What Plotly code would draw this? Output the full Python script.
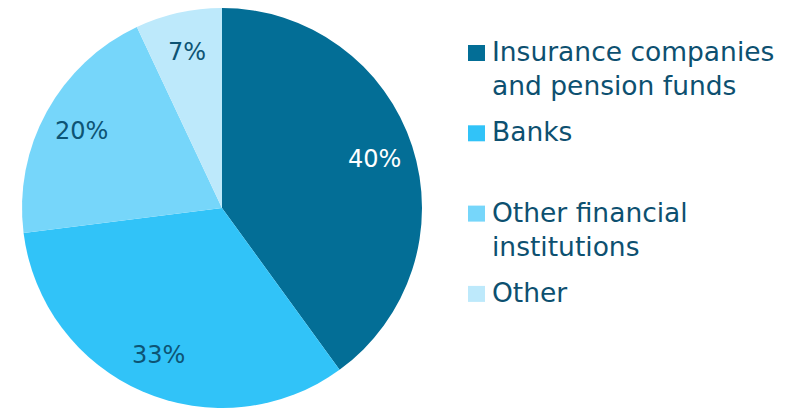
import numpy as np
import plotly.graph_objects as go

# Holders of the debt, share of total (%)
categories = ["Insurance companies<br>and pension funds", "Banks",
              "Other financial<br>institutions", "Other"]
shares = [40, 33, 20, 7]

slice_colors = ["#036e96", "#31c3f8", "#76d6fa", "#bde9fb"]
label_colors = ["#ffffff", "#0d5474", "#0d5474", "#0d5474"]
text_color = "#0d5070"
font_family = "DejaVu Sans, Verdana, sans-serif"

W, H = 792, 408
cx, cy, radius = 222, 208, 200  # pie centre and radius in pixels


def px(x):
    return x / W


def py(y):
    return 1 - y / H


fig = go.Figure(
    go.Pie(
        labels=[c.replace("<br>", " ") for c in categories],
        values=shares,
        sort=False,
        direction="clockwise",
        rotation=0,
        marker=dict(colors=slice_colors, line=dict(width=0)),
        textinfo="none",
        hoverinfo="label+percent",
        showlegend=False,
        domain=dict(x=[px(cx - radius), px(cx + radius)],
                    y=[py(cy + radius), py(cy - radius)]),
    )
)

# percentage labels at the middle angle of each slice, ~80% of the radius out
total = float(np.sum(shares))
ends = np.cumsum(shares) / total * 360.0
mids = np.radians(ends - np.array(shares) / total * 180.0)
annotations = []
for share, ang, col in zip(shares, mids, label_colors):
    lx = cx + 0.8 * radius * np.sin(ang)
    ly = cy - 0.8 * radius * np.cos(ang)
    annotations.append(dict(
        x=px(lx), y=py(ly), xref="paper", yref="paper",
        text=f"{share:.0f}%", showarrow=False,
        xanchor="center", yanchor="middle",
        font=dict(family=font_family, size=24, color=col),
    ))

# legend: one entry every 80 px, square key beside the first text line
shapes = []
legend_top = 53
for i, (name, col) in enumerate(zip(categories, slice_colors)):
    yc = legend_top + 80.3 * i
    shapes.append(dict(
        type="rect", xref="paper", yref="paper",
        x0=px(468), x1=px(485), y0=py(yc - 8), y1=py(yc + 8),
        fillcolor=col, line=dict(width=0),
    ))
    annotations.append(dict(
        x=px(490), y=py(yc - 19), xref="paper", yref="paper",
        text=name, showarrow=False, align="left",
        xanchor="left", yanchor="top",
        font=dict(family=font_family, size=26.5, color=text_color),
    ))

fig.update_layout(
    width=W,
    height=H,
    margin=dict(l=0, r=0, t=0, b=0),
    paper_bgcolor="white",
    plot_bgcolor="white",
    font=dict(family=font_family, color=text_color),
    annotations=annotations,
    shapes=shapes,
)

fig.write_html("out.html")
